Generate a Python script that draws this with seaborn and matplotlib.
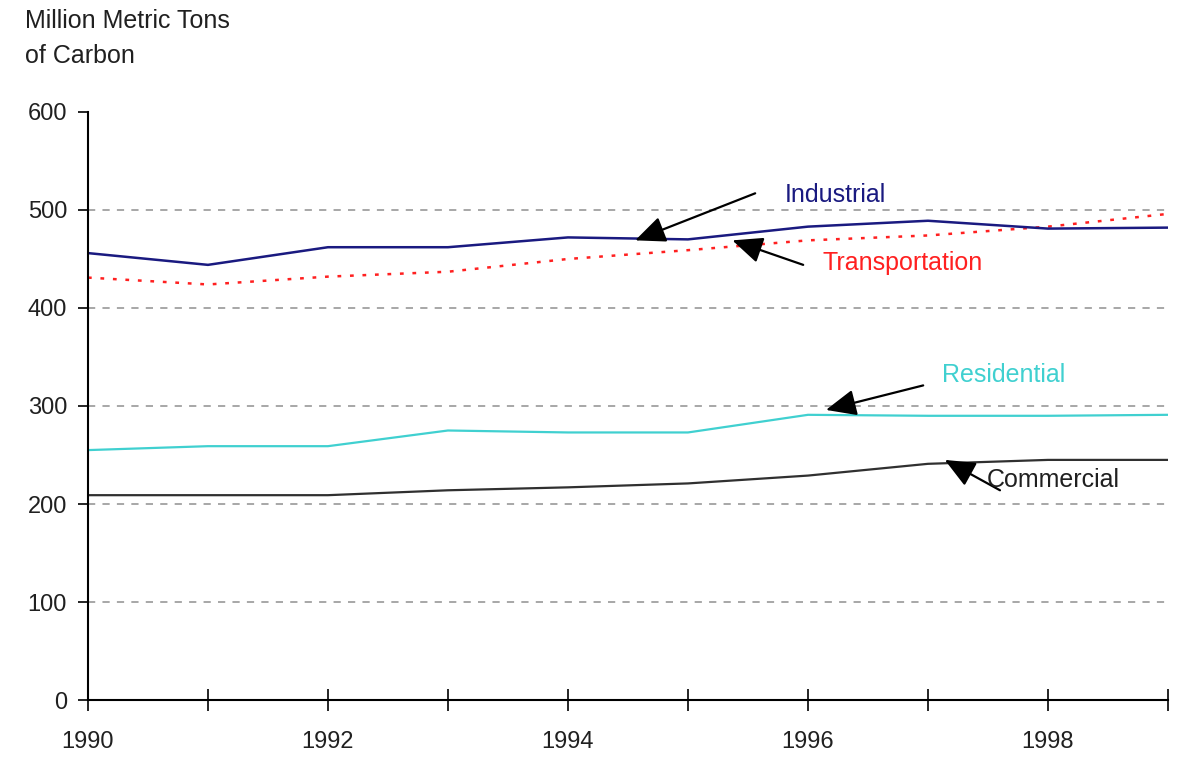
import numpy as np
import pandas as pd
import matplotlib
matplotlib.use("Agg")
import matplotlib.pyplot as plt
import seaborn as sns

years = [1990, 1991, 1992, 1993, 1994, 1995, 1996, 1997, 1998, 1999]
industrial = [456, 444, 462, 462, 472, 470, 483, 489, 481, 482]
transportation = [431, 424, 432, 437, 450, 459, 469, 474, 483, 496]
residential = [255, 259, 259, 275, 273, 273, 291, 290, 290, 291]
commercial = [209, 209, 209, 214, 217, 221, 229, 241, 245, 245]

sns.set_theme(style="white")
plt.rcParams["font.family"] = ["Liberation Sans", "DejaVu Sans"]

df = pd.DataFrame({"year": years, "Industrial": industrial, "Transportation": transportation,
                   "Residential": residential, "Commercial": commercial})

fig = plt.figure(figsize=(11.95, 7.69), dpi=100)
ax = fig.add_axes([0.0736, 0.0897, 0.9038, 0.7647])

for y in [100, 200, 300, 400, 500]:
    ax.axhline(y, color="#a0a0a0", linestyle=(0, (4, 4)), linewidth=1.3, zorder=0)

sns.lineplot(data=df, x="year", y="Commercial", color="#303030", linewidth=1.6, ax=ax)
sns.lineplot(data=df, x="year", y="Residential", color="#40d0d0", linewidth=1.6, ax=ax)
sns.lineplot(data=df, x="year", y="Transportation", color="#ff2020", linewidth=1.8,
             linestyle=(0, (1.5, 3.5)), ax=ax)
sns.lineplot(data=df, x="year", y="Industrial", color="#1a1a80", linewidth=1.8, ax=ax)

ax.set_xlim(1990, 1999)
ax.set_ylim(0, 600)
ax.set_xticks(years)
ax.set_xticklabels([str(y) if y % 2 == 0 else "" for y in years])
ax.set_yticks([0, 100, 200, 300, 400, 500, 600])
ax.set_xlabel("")
ax.set_ylabel("")
for s in ["top", "right"]:
    ax.spines[s].set_visible(False)
for s in ["left", "bottom"]:
    ax.spines[s].set_color("black")
    ax.spines[s].set_linewidth(1.5)
ax.tick_params(axis="y", direction="out", length=7, width=1.2, color="black",
               labelsize=17, pad=8, left=True, labelcolor="#202020")
ax.tick_params(axis="x", direction="inout", length=16, width=1.2, color="black",
               labelsize=17, pad=14, bottom=True, labelcolor="#202020")

fig.text(0.021, 0.988, "Million Metric Tons\nof Carbon", fontsize=18, va="top",
         ha="left", linespacing=1.55, color="#202020")

arrow = dict(arrowstyle="-|>,head_width=0.27,head_length=0.62", color="black", lw=1.6,
             mutation_scale=30, shrinkA=0, shrinkB=0)
# arrows: (head, tail) in data coords
ax.annotate("", xy=(1994.56, 469), xytext=(1995.56, 517), arrowprops=arrow)
ax.annotate("", xy=(1995.37, 469), xytext=(1995.96, 444), arrowprops=arrow)
ax.annotate("", xy=(1996.15, 296), xytext=(1996.96, 321), arrowprops=arrow)
ax.annotate("", xy=(1997.14, 245), xytext=(1997.6, 214), arrowprops=arrow)

ax.text(1995.81, 515, "Industrial", color="#1a1a80", fontsize=18, va="center")
ax.text(1996.12, 446, "Transportation", color="#ff2020", fontsize=18, va="center")
ax.text(1997.12, 332, "Residential", color="#40d0d0", fontsize=18, va="center")
ax.text(1997.49, 224, "Commercial", color="#202020", fontsize=18, va="center")

fig.savefig("out.png", dpi=100)
